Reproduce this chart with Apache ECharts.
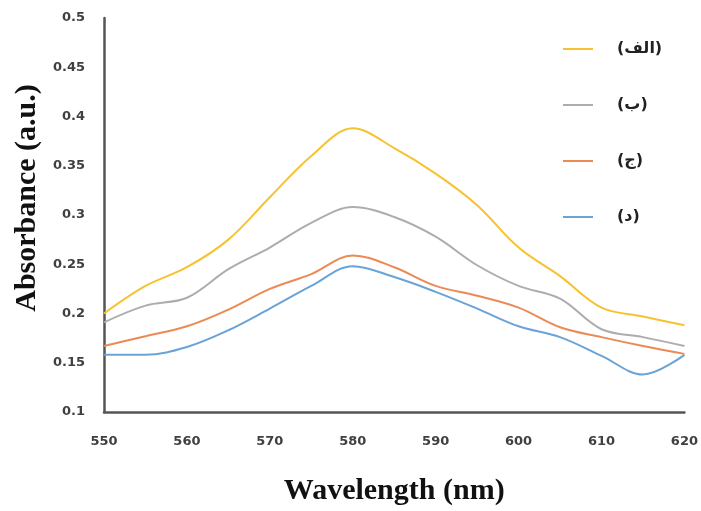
<!DOCTYPE html>
<html>
<head>
<meta charset="utf-8">
<title>Absorbance</title>
<script src="https://cdn.jsdelivr.net/npm/echarts@6/dist/echarts.min.js"></script>
<style>
  html, body { margin: 0; padding: 0; background: #fff; }
  #chart { width: 701px; height: 511px; }
</style>
</head>
<body>
<div id="chart"></div>
<script>
// wavelengths (nm)
var wavelengths = [550, 555, 560, 565, 570, 575, 580, 585, 590, 595, 600, 605, 610, 615, 620];
// series names
var names = ['(الف)', '(ب)', '(ج)', '(د)'];
// absorbance values
var alef = [0.200, 0.228, 0.247, 0.275, 0.318, 0.360, 0.388, 0.368, 0.342, 0.310, 0.267, 0.238, 0.206, 0.197, 0.188];
var be   = [0.191, 0.208, 0.216, 0.245, 0.267, 0.292, 0.308, 0.298, 0.278, 0.249, 0.228, 0.215, 0.184, 0.176, 0.167];
var jim  = [0.167, 0.177, 0.187, 0.204, 0.225, 0.240, 0.259, 0.247, 0.228, 0.218, 0.206, 0.186, 0.176, 0.167, 0.159];
var dal  = [0.158, 0.158, 0.166, 0.183, 0.205, 0.228, 0.248, 0.237, 0.222, 0.205, 0.187, 0.176, 0.157, 0.138, 0.158];
var colors = ['#F7C230', '#ADADAD', '#EB8A55', '#6AA3D6'];

function pairs(vals) {
    var out = [];
    for (var i = 0; i < wavelengths.length; i++) {
        out.push([wavelengths[i], vals[i]]);
    }
    return out;
}

var myChart = echarts.init(document.getElementById('chart'));
var allData = [alef, be, jim, dal];
var series = [];
for (var k = 0; k < names.length; k++) {
    series.push({
        name: names[k],
        type: 'line',
        smooth: 0.35,
        symbol: 'none',
        lineStyle: { width: 2, color: colors[k] },
        itemStyle: { color: colors[k] },
        data: pairs(allData[k])
    });
}

var option = {
    backgroundColor: '#fff',
    animation: false,
    color: colors,
    grid: { left: 104, right: 16, top: 18, bottom: 97 },
    legend: {
        orient: 'vertical',
        left: 558,
        top: 34,
        itemWidth: 30,
        itemHeight: 14,
        itemGap: 36,
        icon: 'path://M0,6 L30,6 L30,8 L0,8 Z',
        textStyle: {
            fontFamily: 'DejaVu Sans',
            fontWeight: 'bold',
            fontSize: 16,
            lineHeight: 20,
            color: '#222',
            padding: [0, 0, 0, 19]
        },
        data: names
    },
    xAxis: {
        type: 'value',
        min: 550,
        max: 620,
        interval: 10,
        name: 'Wavelength (nm)',
        nameLocation: 'middle',
        nameGap: 64,
        nameTextStyle: {
            fontFamily: 'Liberation Serif',
            fontWeight: 'bold',
            fontSize: 30,
            color: '#111'
        },
        axisLine: { lineStyle: { color: '#555', width: 2.5 } },
        axisTick: { show: false },
        splitLine: { show: false },
        axisLabel: {
            margin: 23,
            fontFamily: 'DejaVu Sans',
            fontWeight: 'bold',
            fontSize: 13,
            color: '#404040'
        }
    },
    yAxis: {
        type: 'value',
        min: 0.1,
        max: 0.5,
        interval: 0.05,
        name: 'Absorbance (a.u.)',
        nameLocation: 'middle',
        nameGap: 58,
        nameTextStyle: {
            fontFamily: 'Liberation Serif',
            fontWeight: 'bold',
            fontSize: 30,
            color: '#111',
            padding: [0, 0, 0, 34]
        },
        axisLine: { show: true, lineStyle: { color: '#555', width: 2.5 } },
        axisTick: { show: false },
        splitLine: { show: false },
        axisLabel: {
            margin: 19,
            fontFamily: 'DejaVu Sans',
            fontWeight: 'bold',
            fontSize: 13,
            color: '#404040',
            formatter: function (v) { return String(Math.round(v * 100) / 100); }
        }
    },
    series: series
};

myChart.setOption(option);
window.addEventListener('resize', myChart.resize);
</script>
</body>
</html>
